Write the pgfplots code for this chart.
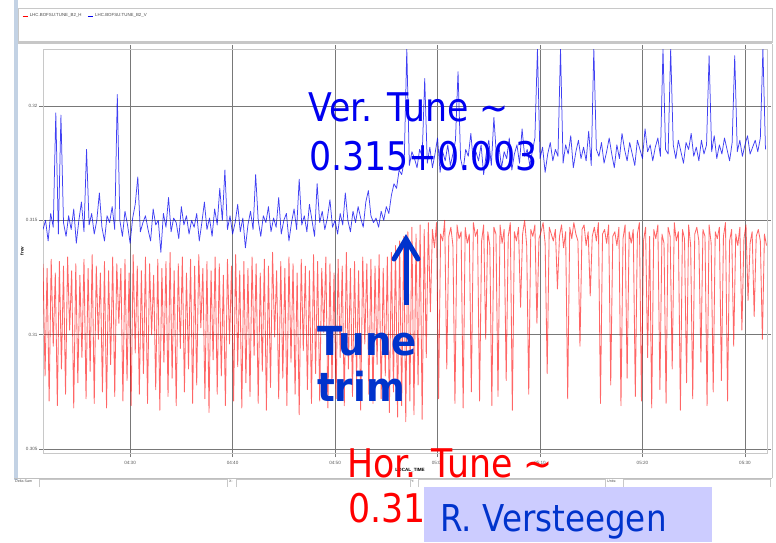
\documentclass[border=0pt]{standalone}
\usepackage{pgfplots}
\pgfplotsset{compat=1.18}
\usepackage{pgfplotstable}
\usepackage{fontspec}
\setmainfont{Liberation Sans}
\newfontfamily\slidefont[FakeStretch=0.88]{DejaVu Sans}
\newfontfamily\slidebold[FakeStretch=0.93]{DejaVu Sans Bold}
\definecolor{vblue}{RGB}{0,0,240}
\definecolor{dblue}{RGB}{0,51,204}
\definecolor{hred}{RGB}{255,0,0}
\definecolor{lav}{RGB}{204,204,255}
\definecolor{chrome}{RGB}{195,210,228}
\definecolor{gridc}{RGB}{120,120,120}
\definecolor{framec}{RGB}{200,200,200}

% Vertical tune (B2_V), one sample every 0.25 min starting 04:21:30
\pgfplotstableread[row sep=\\]{v\\
0.3146\\0.3150\\0.3141\\0.3153\\0.3147\\0.3197\\0.3144\\0.3196\\0.3149\\0.3143\\
0.3152\\0.3146\\0.3155\\0.3140\\0.3150\\0.3158\\0.3145\\0.3181\\0.3148\\0.3153\\
0.3144\\0.3150\\0.3162\\0.3147\\0.3141\\0.3152\\0.3149\\0.3156\\0.3146\\0.3205\\
0.3150\\0.3143\\0.3154\\0.3148\\0.3140\\0.3151\\0.3157\\0.3169\\0.3145\\0.3149\\
0.3152\\0.3146\\0.3141\\0.3155\\0.3148\\0.3150\\0.3136\\0.3153\\0.3147\\0.3160\\
0.3145\\0.3151\\0.3149\\0.3142\\0.3156\\0.3148\\0.3152\\0.3144\\0.3150\\0.3147\\
0.3153\\0.3141\\0.3149\\0.3158\\0.3146\\0.3151\\0.3143\\0.3155\\0.3148\\0.3164\\
0.3150\\0.3172\\0.3146\\0.3152\\0.3144\\0.3149\\0.3157\\0.3145\\0.3151\\0.3138\\
0.3148\\0.3154\\0.3146\\0.3170\\0.3150\\0.3143\\0.3152\\0.3149\\0.3156\\0.3145\\
0.3151\\0.3147\\0.3160\\0.3144\\0.3150\\0.3153\\0.3141\\0.3149\\0.3155\\0.3146\\
0.3168\\0.3148\\0.3152\\0.3145\\0.3157\\0.3150\\0.3143\\0.3166\\0.3149\\0.3154\\
0.3146\\0.3151\\0.3159\\0.3147\\0.3150\\0.3144\\0.3153\\0.3148\\0.3162\\0.3150\\
0.3145\\0.3154\\0.3149\\0.3156\\0.3151\\0.3147\\0.3158\\0.3163\\0.3152\\0.3149\\
0.3151\\0.3147\\0.3154\\0.3150\\0.3156\\0.3153\\0.3161\\0.3166\\0.3164\\0.3172\\
0.3170\\0.3176\\0.3225\\0.3174\\0.3180\\0.3177\\0.3173\\0.3181\\0.3178\\0.3212\\
0.3175\\0.3182\\0.3173\\0.3179\\0.3186\\0.3171\\0.3180\\0.3176\\0.3183\\0.3174\\
0.3179\\0.3185\\0.3215\\0.3177\\0.3172\\0.3181\\0.3178\\0.3188\\0.3175\\0.3180\\
0.3176\\0.3183\\0.3170\\0.3179\\0.3185\\0.3174\\0.3195\\0.3178\\0.3182\\0.3173\\
0.3180\\0.3177\\0.3186\\0.3172\\0.3179\\0.3183\\0.3175\\0.3190\\0.3178\\0.3181\\
0.3174\\0.3180\\0.3186\\0.3225\\0.3177\\0.3182\\0.3171\\0.3179\\0.3184\\0.3176\\
0.3181\\0.3178\\0.3225\\0.3175\\0.3183\\0.3179\\0.3187\\0.3173\\0.3180\\0.3185\\
0.3177\\0.3182\\0.3176\\0.3189\\0.3174\\0.3225\\0.3181\\0.3178\\0.3184\\0.3175\\
0.3180\\0.3186\\0.3179\\0.3173\\0.3183\\0.3177\\0.3188\\0.3181\\0.3176\\0.3184\\
0.3179\\0.3174\\0.3185\\0.3181\\0.3177\\0.3190\\0.3180\\0.3183\\0.3176\\0.3182\\
0.3186\\0.3178\\0.3225\\0.3181\\0.3179\\0.3225\\0.3183\\0.3177\\0.3185\\0.3180\\
0.3175\\0.3184\\0.3181\\0.3188\\0.3178\\0.3182\\0.3176\\0.3185\\0.3179\\0.3183\\
0.3222\\0.3180\\0.3187\\0.3177\\0.3183\\0.3179\\0.3186\\0.3181\\0.3176\\0.3184\\
0.3222\\0.3180\\0.3185\\0.3178\\0.3183\\0.3187\\0.3179\\0.3182\\0.3185\\0.3180\\
0.3186\\0.3225\\0.3181\\
}\tabV

% Horizontal tune (B2_H), one sample every 0.2 min starting 04:21:30
\pgfplotstableread[row sep=\\]{h\\
0.3131\\0.3082\\0.3129\\0.3071\\0.3133\\0.3095\\0.3127\\0.3069\\0.3132\\0.3085\\
0.3130\\0.3074\\0.3134\\0.3102\\0.3128\\0.3068\\0.3131\\0.3079\\0.3126\\0.3090\\
0.3133\\0.3072\\0.3129\\0.3084\\0.3135\\0.3070\\0.3130\\0.3098\\0.3127\\0.3075\\
0.3132\\0.3068\\0.3128\\0.3087\\0.3134\\0.3073\\0.3131\\0.3105\\0.3129\\0.3071\\
0.3133\\0.3080\\0.3127\\0.3069\\0.3135\\0.3092\\0.3130\\0.3074\\0.3128\\0.3083\\
0.3134\\0.3070\\0.3131\\0.3100\\0.3126\\0.3076\\0.3133\\0.3067\\0.3129\\0.3088\\
0.3132\\0.3073\\0.3136\\0.3081\\0.3128\\0.3069\\0.3131\\0.3094\\0.3134\\0.3075\\
0.3127\\0.3085\\0.3133\\0.3070\\0.3130\\0.3078\\0.3135\\0.3103\\0.3129\\0.3072\\
0.3132\\0.3066\\0.3128\\0.3089\\0.3134\\0.3074\\0.3131\\0.3082\\0.3126\\0.3069\\
0.3133\\0.3096\\0.3130\\0.3071\\0.3135\\0.3086\\0.3128\\0.3068\\0.3132\\0.3079\\
0.3129\\0.3073\\0.3134\\0.3091\\0.3131\\0.3070\\0.3127\\0.3084\\0.3133\\0.3067\\
0.3130\\0.3077\\0.3136\\0.3099\\0.3128\\0.3072\\0.3132\\0.3081\\0.3129\\0.3069\\
0.3134\\0.3088\\0.3131\\0.3074\\0.3127\\0.3065\\0.3133\\0.3093\\0.3130\\0.3076\\
0.3128\\0.3070\\0.3135\\0.3083\\0.3132\\0.3071\\0.3129\\0.3101\\0.3134\\0.3068\\
0.3131\\0.3079\\0.3127\\0.3072\\0.3133\\0.3090\\0.3130\\0.3069\\0.3136\\0.3085\\
0.3129\\0.3073\\0.3132\\0.3080\\0.3128\\0.3067\\0.3134\\0.3096\\0.3131\\0.3074\\
0.3133\\0.3070\\0.3130\\0.3087\\0.3135\\0.3072\\0.3129\\0.3082\\0.3134\\0.3066\\
0.3136\\0.3075\\0.3139\\0.3064\\0.3141\\0.3069\\0.3143\\0.3062\\0.3145\\0.3071\\
0.3147\\0.3065\\0.3144\\0.3078\\0.3148\\0.3063\\0.3146\\0.3090\\0.3149\\0.3110\\
0.3146\\0.3138\\0.3149\\0.3072\\0.3144\\0.3141\\0.3150\\0.3085\\0.3143\\0.3147\\
0.3139\\0.3070\\0.3148\\0.3142\\0.3145\\0.3068\\0.3147\\0.3140\\0.3144\\0.3075\\
0.3149\\0.3143\\0.3146\\0.3071\\0.3141\\0.3148\\0.3098\\0.3145\\0.3139\\0.3069\\
0.3147\\0.3144\\0.3073\\0.3148\\0.3140\\0.3146\\0.3080\\0.3143\\0.3149\\0.3067\\
0.3145\\0.3141\\0.3147\\0.3112\\0.3144\\0.3150\\0.3139\\0.3074\\0.3146\\0.3143\\
0.3148\\0.3105\\0.3142\\0.3145\\0.3149\\0.3140\\0.3083\\0.3147\\0.3144\\0.3141\\
0.3146\\0.3120\\0.3143\\0.3148\\0.3138\\0.3145\\0.3072\\0.3147\\0.3142\\0.3149\\
0.3144\\0.3141\\0.3095\\0.3146\\0.3148\\0.3139\\0.3145\\0.3117\\0.3143\\0.3147\\
0.3141\\0.3149\\0.3070\\0.3144\\0.3146\\0.3140\\0.3148\\0.3078\\0.3143\\0.3145\\
0.3139\\0.3147\\0.3069\\0.3142\\0.3148\\0.3081\\0.3145\\0.3140\\0.3146\\0.3073\\
0.3144\\0.3149\\0.3071\\0.3141\\0.3147\\0.3090\\0.3143\\0.3068\\0.3146\\0.3142\\
0.3148\\0.3076\\0.3144\\0.3140\\0.3070\\0.3147\\0.3143\\0.3085\\0.3149\\0.3141\\
0.3145\\0.3067\\0.3146\\0.3142\\0.3079\\0.3148\\0.3139\\0.3072\\0.3144\\0.3147\\
0.3141\\0.3088\\0.3146\\0.3143\\0.3069\\0.3148\\0.3140\\0.3075\\0.3145\\0.3142\\
0.3147\\0.3080\\0.3143\\0.3149\\0.3071\\0.3141\\0.3146\\0.3095\\0.3144\\0.3139\\
0.3147\\0.3102\\0.3142\\0.3148\\0.3115\\0.3140\\0.3145\\0.3108\\0.3143\\0.3146\\
0.3141\\0.3098\\0.3144\\0.3139\\
}\tabH

\begin{document}
\begin{tikzpicture}[x=1pt,y=1pt]
\useasboundingbox (0pt,0pt) rectangle (776pt,542pt);
\fill[white] (0pt,0pt) rectangle (776pt,542pt);
% window chrome
\fill[chrome] (14,62) rectangle (18,542);
\draw[framec, line width=0.6] (18,534) rectangle (772,500);
\fill[black!22] (18,498) rectangle (772,501);
\draw[framec, line width=0.6] (772,498) -- (772,64);
\draw[black!25, line width=0.6] (14,64) -- (772,64);
\foreach \a/\b in {39/227,236/410,418/605,623/770}{
  \draw[framec, line width=0.6] (\a,55) -- (\a,63) -- (\b,63) -- (\b,55);}
\begin{scope}[font=\fontsize{3.6}{4}\selectfont, text=black!70]
\node[anchor=west, inner sep=0] at (15,60.5) {Delta Sam};
\node[anchor=west, inner sep=0] at (229,60.5) {X:};
\node[anchor=west, inner sep=0] at (411,60.5) {Y:};
\node[anchor=west, inner sep=0] at (607,60.5) {Units:};
\end{scope}

\begin{axis}[
  at={(43pt,89pt)}, anchor=south west,
  scale only axis, width=724pt, height=404pt,
  xmin=21.5, xmax=92.15, ymin=0.30483, ymax=0.32249,
  axis line style={framec, line width=0.7},
  xtick={30,40,50,60,70,80,90},
  xticklabels={04:30,04:40,04:50,05:00,05:10,05:20,05:30},
  ytick={0.305,0.31,0.315,0.32},
  yticklabels={0.305,0.31,0.315,0.32},
  grid=major,
  major grid style={gridc, line width=0.8},
  tick align=outside, major tick length=4pt,
  tick style={gridc, line width=0.7},
  every tick label/.append style={font=\fontsize{4.6}{5}\selectfont, text=black!65},
  xticklabel style={yshift=-1pt},
  yticklabel style={xshift=2pt},
  xlabel={\textbf{LOCAL\_TIME}},
  ylabel={\textbf{frev}},
  label style={font=\fontsize{4.6}{5}\selectfont},
  xlabel style={at={(axis description cs:0.507,-0.042)}, anchor=center},
  ylabel style={at={(axis description cs:-0.029,0.5)}, anchor=center},
  legend style={at={(axis description cs:-0.029,1.082)}, anchor=west,
    draw=none, fill=none, inner sep=0pt,
    font=\fontsize{4.4}{5}\selectfont, text=black!70,
    legend cell align=left},
  legend columns=2,
  legend image code/.code={\draw[#1, draw opacity=1, line width=0.6] (0pt,0pt) -- (5pt,0pt);},
  /tikz/every even column/.append style={column sep=4pt},
  clip=true,
]
\addplot[hred, line width=0.85, draw opacity=0.6, mark=none, line join=round]
  table[x expr={21.5+0.2*\coordindex}, y=h] {\tabH};
\addlegendentry{LHC.BOFSU:TUNE\_B2\_H}
\addplot[vblue, line width=0.75, draw opacity=0.75, mark=none, line join=round]
  table[x expr={21.5+0.25*\coordindex}, y=v] {\tabV};
\addlegendentry{LHC.BOFSU:TUNE\_B2\_V}
\end{axis}

% slide annotations
\node[anchor=base west, inner sep=0, text=vblue, font=\fontsize{39.5}{40}\slidefont] at (308,420) {Ver. Tune \textasciitilde};
\node[anchor=base west, inner sep=0, text=vblue, font=\fontsize{39.5}{40}\slidefont] at (309,372) {0.315+0.003};
\node[anchor=base west, inner sep=0, text=dblue, font=\fontsize{40}{40}\slidebold] at (317,187) {Tune};
\node[anchor=base west, inner sep=0, text=dblue, font=\fontsize{40}{40}\slidebold] at (317,141) {trim};
\draw[dblue, line width=5, line cap=butt] (406,237) -- (406,302);
\draw[dblue, line width=5, line cap=round, line join=miter] (394,283) -- (406,303) -- (418,283);
\node[anchor=base west, inner sep=0, text=hred, font=\fontsize{39.5}{40}\slidefont] at (347,65) {Hor. Tune \textasciitilde};
\node[anchor=base west, inner sep=0, text=hred, font=\fontsize{39.5}{40}\slidefont] at (348,20) {0.31};
\node[anchor=base west, inner sep=0, text=black, font=\fontsize{39.5}{40}\slidefont] at (701,24) {)};
\fill[lav] (424,0) rectangle (712,55);
\node[anchor=base west, inner sep=0, text=dblue, font=\fontsize{37}{40}\slidefont] at (440,11) {R. Versteegen};
\end{tikzpicture}
\end{document}
